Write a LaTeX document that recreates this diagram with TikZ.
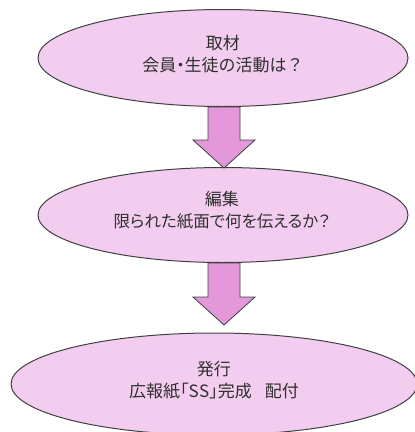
\documentclass[tikz,border=0pt]{standalone}
\usepackage{fontspec}
\setmainfont{Noto Sans CJK JP}
\newfontfamily\paltfont[RawFeature=+palt]{Noto Sans CJK JP}
\usetikzlibrary{shapes.geometric,calc}
\definecolor{ellfill}{HTML}{F3CDEF}
\definecolor{arrfill}{HTML}{E497D9}
\definecolor{edge}{HTML}{404040}
\definecolor{txt}{HTML}{303030}
\tikzset{
  stage/.style={ellipse, draw=edge, fill=ellfill, line width=1pt, inner sep=0pt},
  label/.style={align=center, text=txt, font=\fontsize{17pt}{22pt}\selectfont, inner sep=0pt},
  blockarrow/.style={draw=edge, fill=arrfill, line width=0.8pt, line join=miter}
}
\begin{document}
\begin{tikzpicture}[x=1pt,y=-1pt]
\useasboundingbox (0,0) rectangle (415,432);
\node[stage, minimum width=370pt, minimum height=97pt] (e1) at (223,58) {};
\node[stage, minimum width=370pt, minimum height=95pt] (e2) at (223,215) {};
\node[stage, minimum width=406pt, minimum height=102pt] (e3) at (214,384) {};
\node[label] (t1) at (223,54) {取材\\会員{\paltfont ・}生徒の活動は？};
\node[label] (t2) at (222,210.5) {編集\\{\paltfont\fontsize{16.5pt}{22pt}\selectfont 限られた紙面で何を伝えるか？}};
\node[label] (t3) at (214,380.5) {発行\\広報紙{\paltfont 「}S\kern0.5pt S{\paltfont 」}完成\hspace{13pt}配付};
% arrow 1
\coordinate (a1s) at (224,107);
\coordinate (a1t) at (224,168);
\draw[blockarrow] ($(a1s)+(-16,0)$) -- ($(a1s)+(16,0)$) -- ($(a1t)+(16,-28)$) -- ($(a1t)+(31,-28)$) -- (a1t) -- ($(a1t)+(-31,-28)$) -- ($(a1t)+(-16,-28)$) -- cycle;
% arrow 2
\coordinate (a2s) at (224,263);
\coordinate (a2t) at (224,325);
\draw[blockarrow] ($(a2s)+(-16,0)$) -- ($(a2s)+(16,0)$) -- ($(a2t)+(16,-28)$) -- ($(a2t)+(31,-28)$) -- (a2t) -- ($(a2t)+(-31,-28)$) -- ($(a2t)+(-16,-28)$) -- cycle;
\end{tikzpicture}
\end{document}
